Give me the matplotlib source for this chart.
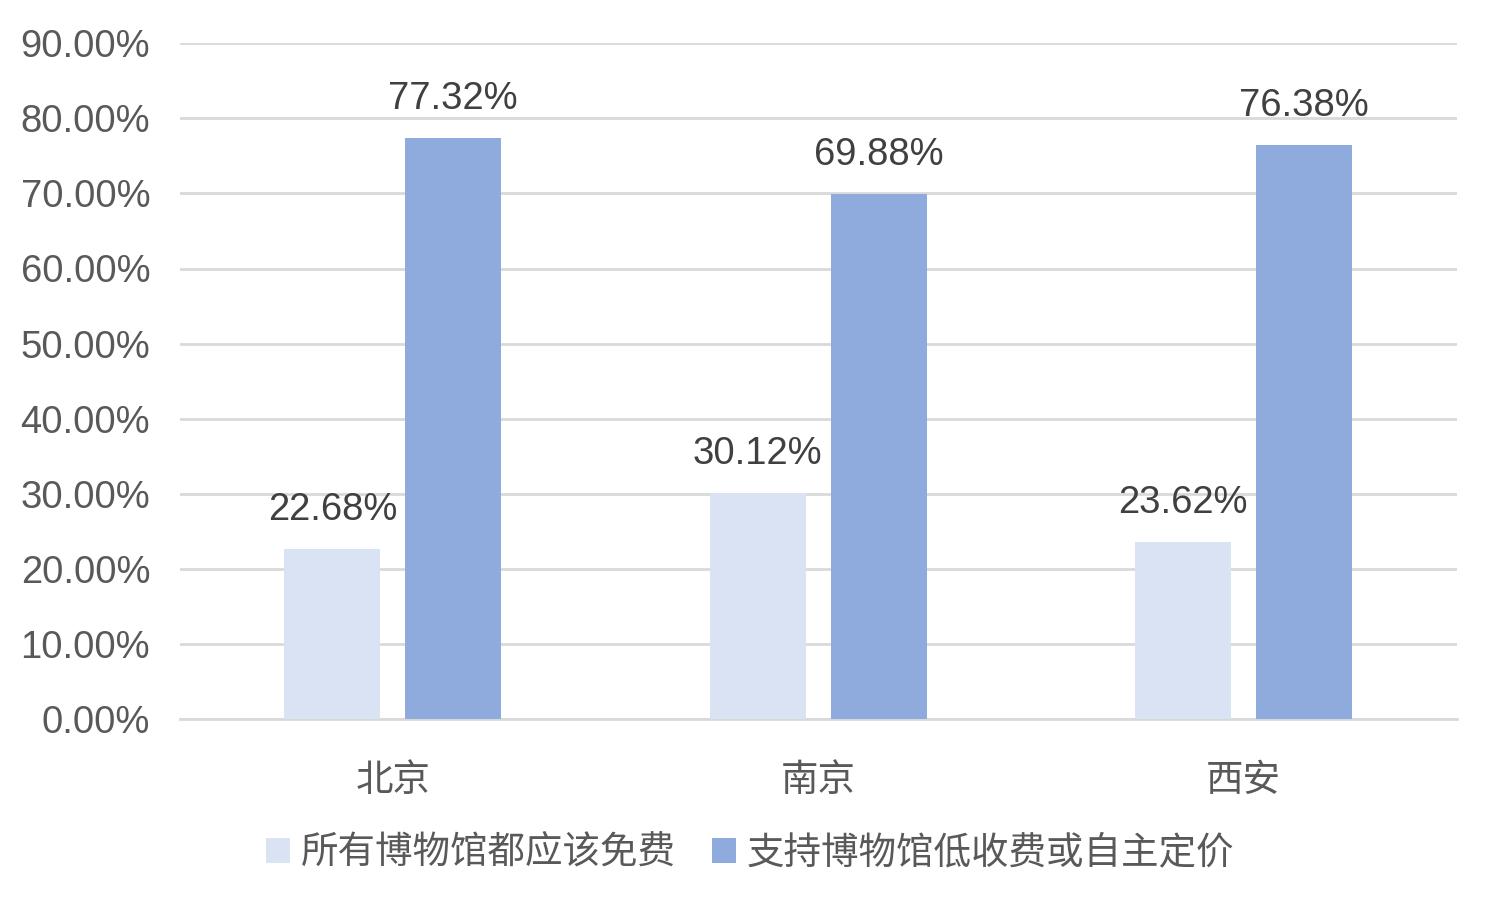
import numpy as np
import matplotlib.pyplot as plt
from matplotlib.ticker import FuncFormatter

plt.rcParams['font.family'] = ['Liberation Sans', 'Noto Sans CJK SC', 'DejaVu Sans']

cities = ['北京', '南京', '西安']
series_names = ['所有博物馆都应该免费', '支持博物馆低收费或自主定价']
free_vals = [22.68, 30.12, 23.62]
low_fee_vals = [77.32, 69.88, 76.38]
colors = ['#dae3f3', '#8faadc']

fig = plt.figure(figsize=(15, 9), dpi=100)
ax = fig.add_axes([0.12, 0.201, 0.851, 0.751])

x = np.arange(len(cities))
w = 0.2255
off = 0.142
b1 = ax.bar(x - off, free_vals, w, color=colors[0], label=series_names[0], zorder=3)
b2 = ax.bar(x + off, low_fee_vals, w, color=colors[1], label=series_names[1], zorder=3)

# value labels above each bar
for bars, vals in [(b1, free_vals), (b2, low_fee_vals)]:
    for r, v in zip(bars, vals):
        ax.text(r.get_x() + r.get_width() / 2, v + 2.8, '%.2f%%' % v,
                ha='center', va='bottom', fontsize=27.5, color='#404040')

ax.set_xlim(-0.5, 2.5)
ax.set_ylim(0, 90)
ax.set_yticks(np.arange(0, 91, 10))
ax.yaxis.set_major_formatter(FuncFormatter(lambda v, p: '%.2f%%' % v))
ax.set_xticks(x)
ax.set_xticklabels(cities, family=['Noto Sans CJK SC'])
ax.tick_params(axis='y', length=0, labelsize=27.5, labelcolor='#595959', pad=21.5)
ax.tick_params(axis='x', length=0, labelsize=27, labelcolor='#595959', pad=30)
ax.grid(axis='y', color='#d9d9d9', linewidth=2, zorder=0)
for s in ['top', 'right', 'left']:
    ax.spines[s].set_visible(False)
ax.spines['bottom'].set_color('#d9d9d9')
ax.spines['bottom'].set_linewidth(2)

leg = fig.legend(loc='center', bbox_to_anchor=(0.5, 0.052), ncol=2, frameon=False,
                 prop={'family': 'Noto Sans CJK SC', 'size': 27},
                 handlelength=0.64, handleheight=0.64, handletextpad=0.3, columnspacing=0.95)
for t in leg.get_texts():
    t.set_color('#595959')

fig.savefig('out.png', dpi=100)
